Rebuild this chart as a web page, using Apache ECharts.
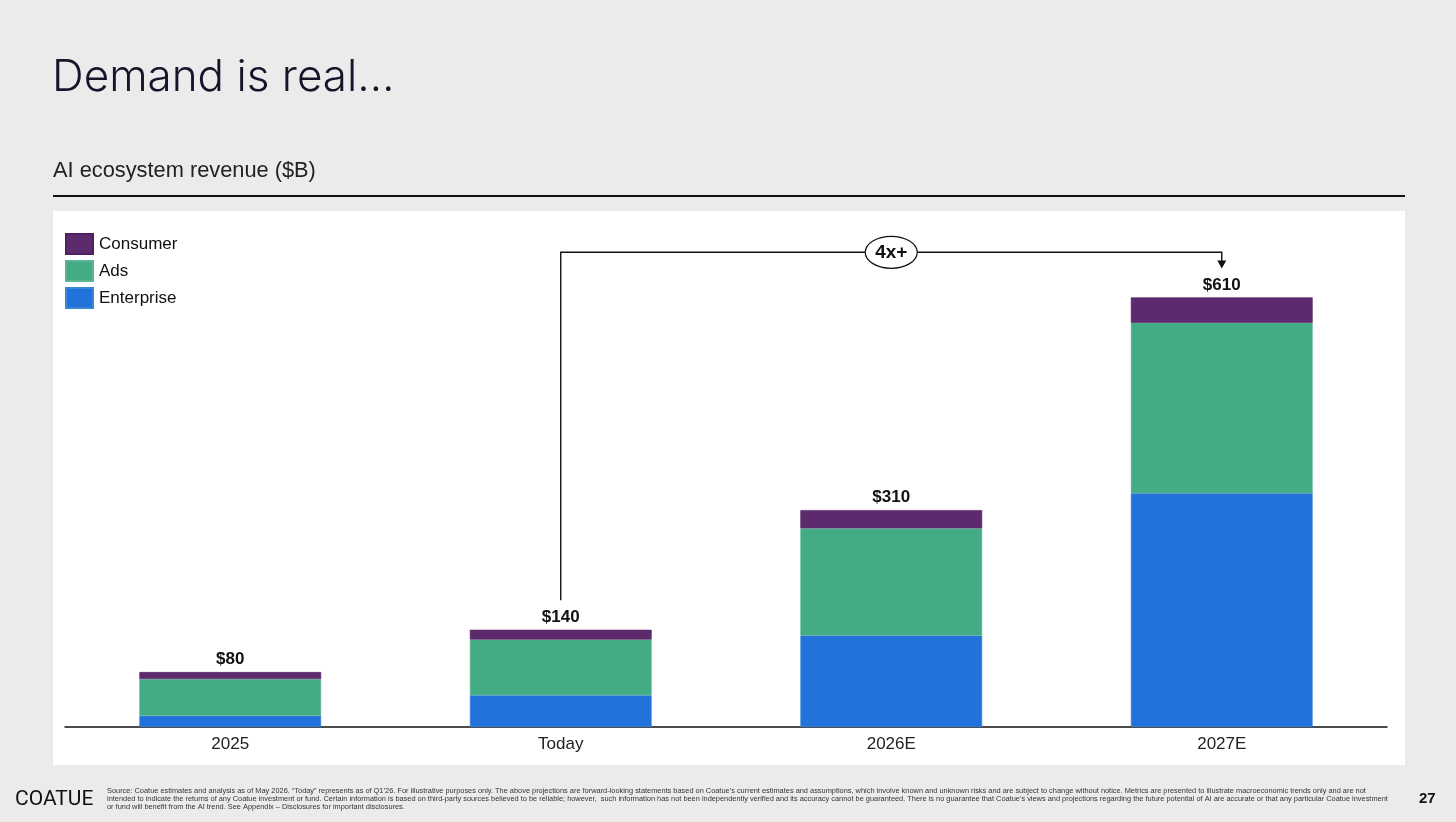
<!DOCTYPE html>
<html>
<head>
<meta charset="utf-8">
<script src="https://cdn.jsdelivr.net/npm/echarts@6/dist/echarts.min.js"></script>
<style>
html,body{margin:0;padding:0;background:#ebebeb;}
#main{width:1456px;height:822px;}
</style>
</head>
<body>
<div id="main"></div>
<script>
// data ($B)
var categories = ['2025', 'Today', '2026E', '2027E'];
var enterprise = [16, 45, 130, 332];
var ads = [52, 79, 152, 242];
var consumer = [10, 14, 26, 36];
var totals = [80, 140, 310, 610];
var growthLabel = '4x+';

var footnote = [
    'Source: Coatue estimates and analysis as of May 2026. \u201cToday\u201d represents as of Q1\u201926. For illustrative purposes only. The above projections are forward-looking statements based on Coatue\u2019s current estimates and assumptions, which involve known and unknown risks and are subject to change without notice. Metrics are presented to illustrate macroeconomic trends only and are not',
    'intended to indicate the returns of any Coatue investment or fund. Certain information is based on third-party sources believed to be reliable; however,  such information has not been independently verified and its accuracy cannot be guaranteed. There is no guarantee that Coatue\u2019s views and projections regarding the future potential of AI are accurate or that any particular Coatue investment',
    'or fund will benefit from the AI trend. See Appendix \u2013 Disclosures for important disclosures.'
];

var chart = echarts.init(document.getElementById('main'));
var font = 'Liberation Sans, Arial, sans-serif';

var option = {
    backgroundColor: '#ebebeb',
    animation: false,
    textStyle: {fontFamily: font},
    grid: {left: 65, right: 69, top: 234, bottom: 95},
    legend: {
        orient: 'vertical',
        left: 65,
        top: 233,
        padding: 0,
        itemWidth: 27,
        itemHeight: 20,
        itemGap: 5,
        icon: 'rect',
        data: ['Consumer', 'Ads', 'Enterprise'],
        textStyle: {fontSize: 17, lineHeight: 20, color: '#111', fontFamily: font, padding: [0, 0, 0, 1]}
    },
    xAxis: {
        type: 'category',
        data: categories,
        axisTick: {show: false},
        axisLine: {lineStyle: {color: '#111', width: 1.5}},
        axisLabel: {fontSize: 17, color: '#222', margin: 9, fontFamily: font}
    },
    yAxis: {
        type: 'value',
        min: 0,
        max: 700,
        show: false,
        splitLine: {show: false}
    },
    series: [
        {
            name: 'Enterprise', type: 'bar', stack: 'rev', data: enterprise,
            barWidth: '55%',
            itemStyle: {color: '#2173db', borderColor: '#3c85d8', borderWidth: 0.6}
        },
        {
            name: 'Ads', type: 'bar', stack: 'rev', data: ads,
            itemStyle: {color: '#43ac84', borderColor: '#5bb593', borderWidth: 0.6}
        },
        {
            name: 'Consumer', type: 'bar', stack: 'rev', data: consumer,
            itemStyle: {color: '#5e2a6e', borderColor: '#4e2060', borderWidth: 0.6},
            label: {
                show: true,
                position: 'top',
                distance: 4,
                fontSize: 17,
                fontWeight: 'bold',
                color: '#111',
                fontFamily: font,
                formatter: function (p) {
                    return '$' + totals[p.dataIndex];
                }
            }
        }
    ]
};
chart.setOption(option);

// annotation bracket from Today to 2027E, placed through the chart scales
var pStart = chart.convertToPixel({xAxisIndex: 0, yAxisIndex: 0}, ['Today', 180]);
var pLine = chart.convertToPixel({xAxisIndex: 0, yAxisIndex: 0}, ['Today', 674]);
var pEnd = chart.convertToPixel({xAxisIndex: 0, yAxisIndex: 0}, ['2027E', 674]);
var pTip = chart.convertToPixel({xAxisIndex: 0, yAxisIndex: 0}, ['2027E', 651]);
var midX = (pLine[0] + pEnd[0]) / 2;

var graphics = [
    {type: 'rect', z: -1, shape: {x: 53, y: 211, width: 1352, height: 554}, style: {fill: '#ffffff'}},
    {type: 'text', left: 52, top: 56, style: {text: 'Demand is real\u2026', fontSize: 44, fontFamily: 'Inter, Liberation Sans, sans-serif', fontWeight: 300, fill: '#15152a'}},
    {type: 'text', left: 53, top: 160, style: {text: 'AI ecosystem revenue ($B)', fontSize: 21.8, fontFamily: font, fill: '#222'}},
    {type: 'line', shape: {x1: 53, y1: 196, x2: 1405, y2: 196}, style: {stroke: '#111', lineWidth: 2}},
    {type: 'polyline', z: 5, shape: {points: [[pStart[0], pStart[1]], [pLine[0], pLine[1]], [pEnd[0], pEnd[1]], [pEnd[0], pTip[1] - 7]]},
        style: {stroke: '#111', lineWidth: 1.4, fill: null}},
    {type: 'polygon', z: 5, shape: {points: [[pEnd[0] - 4.5, pTip[1] - 8], [pEnd[0] + 4.5, pTip[1] - 8], [pEnd[0], pTip[1]]]},
        style: {fill: '#111'}},
    {type: 'ellipse', z: 6, shape: {cx: midX, cy: pLine[1], rx: 26, ry: 16}, style: {fill: '#fff', stroke: '#111', lineWidth: 1.2}},
    {type: 'text', z: 7, x: midX, y: pLine[1], style: {text: growthLabel, fontSize: 19, fontWeight: 'bold', fontFamily: font, fill: '#111', align: 'center', verticalAlign: 'middle'}},
    {type: 'text', left: 15, top: 789, style: {text: 'COATUE', fontSize: 21, fontFamily: 'Liberation Sans Narrow, Roboto, sans-serif', fill: '#111'}},
    {type: 'text', left: 1419, top: 791, style: {text: '27', fontSize: 15, fontWeight: 'bold', fontFamily: 'Liberation Sans Narrow, Liberation Sans, sans-serif', fill: '#111'}}
];
footnote.forEach(function (line, i) {
    graphics.push({type: 'text', left: 107, top: 787 + i * 8.4,
        style: {text: line, fontSize: 7.4, fontFamily: font, fill: '#333'}});
});
chart.setOption({graphic: graphics});
</script>
</body>
</html>
